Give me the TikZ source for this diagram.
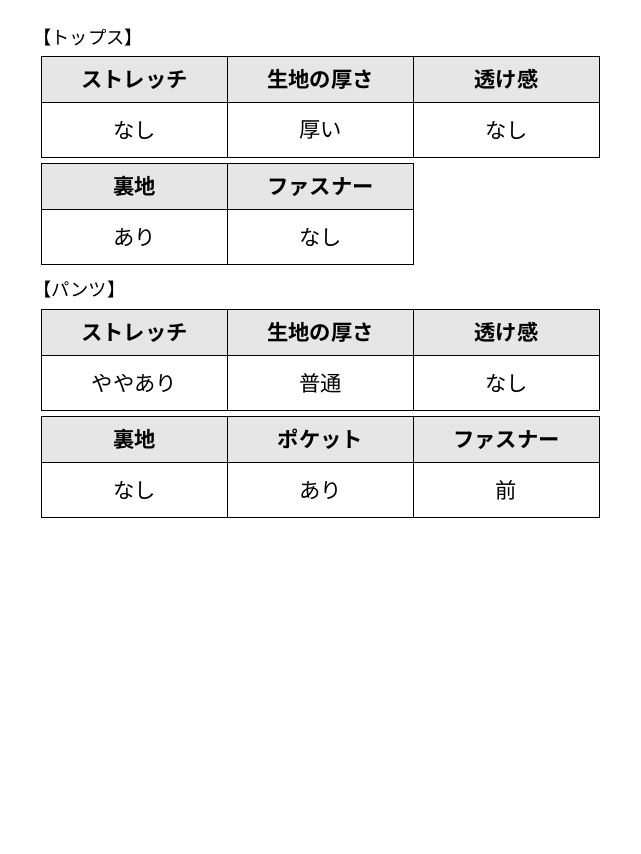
\documentclass[tikz,border=0pt]{standalone}
\usepackage{fontspec}
\newfontfamily\jp{Noto Sans CJK JP}[BoldFont={Noto Sans CJK JP Bold}]
\definecolor{hdr}{HTML}{E6E6E6}
\begin{document}
\begin{tikzpicture}[x=0.75pt,y=-0.75pt,
  cell/.style={draw=black,line width=0.9pt,anchor=north west,inner sep=0pt,
    minimum width=186*0.75pt,font=\jp\fontsize{16}{19}\selectfont},
  hcell/.style={cell,fill=hdr,minimum height=46*0.75pt,font=\jp\bfseries\fontsize{16}{19}\selectfont},
  bcell/.style={cell,minimum height=55*0.75pt},
  ttl/.style={anchor=west,inner sep=0pt,font=\jp\fontsize{13.7}{16}\selectfont}]
\useasboundingbox[fill=white] (0,0) rectangle (640,854);
\node[ttl] (t1) at (33,38) {【トップス】};
% table 1
\node[hcell] (a11) at (41,56) {ストレッチ};
\node[hcell] (a12) at (227,56) {生地の厚さ};
\node[hcell] (a13) at (413,56) {透け感};
\node[bcell] (a21) at (41,102) {なし};
\node[bcell] (a22) at (227,102) {厚い};
\node[bcell] (a23) at (413,102) {なし};
% table 2
\node[hcell] (b11) at (41,163) {裏地};
\node[hcell] (b12) at (227,163) {ファスナー};
\node[bcell] (b21) at (41,209) {あり};
\node[bcell] (b22) at (227,209) {なし};
\node[ttl] (t2) at (33,290) {【パンツ】};
% table 3
\node[hcell] (c11) at (41,309) {ストレッチ};
\node[hcell] (c12) at (227,309) {生地の厚さ};
\node[hcell] (c13) at (413,309) {透け感};
\node[bcell] (c21) at (41,355) {ややあり};
\node[bcell] (c22) at (227,355) {普通};
\node[bcell] (c23) at (413,355) {なし};
% table 4
\node[hcell] (d11) at (41,416) {裏地};
\node[hcell] (d12) at (227,416) {ポケット};
\node[hcell] (d13) at (413,416) {ファスナー};
\node[bcell] (d21) at (41,462) {なし};
\node[bcell] (d22) at (227,462) {あり};
\node[bcell] (d23) at (413,462) {前};
\end{tikzpicture}
\end{document}
